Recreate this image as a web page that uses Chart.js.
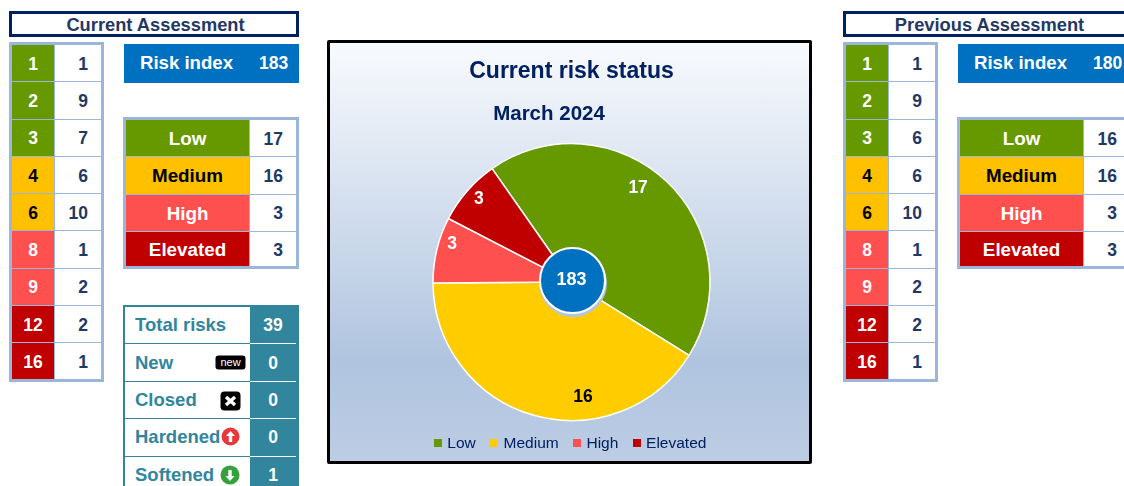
<!DOCTYPE html>
<html>
<head>
<meta charset="utf-8">
<title>Risk status</title>
<script src="https://cdn.jsdelivr.net/npm/chart.js@4"></script>
<style>
    html, body { margin: 0; padding: 0; width: 1124px; height: 486px; overflow: hidden; background: #fff; }
    body { position: relative; font-family: "Liberation Sans", Arial, sans-serif; font-weight: bold; }

    .panel-title {
        position: absolute; top: 11px; width: 290px; height: 26px; box-sizing: border-box; padding-left: 3px;
        border: 3px solid #002060; color: #1f3864; font-size: 18.3px; line-height: 21px; text-align: center;
    }
    .risk-index {
        position: absolute; top: 44px; width: 175px; height: 39px; background: #0070c0; color: #fff;
    }
    .risk-index span { position: absolute; top: 0; line-height: 38px; }

    table { position: absolute; border-collapse: separate; border-spacing: 0; table-layout: fixed; box-sizing: border-box; }
    td { padding: 0; box-sizing: border-box; overflow: hidden; white-space: nowrap; }

    .grid { border: 3px solid #9bb6db; color: #1f3864; }
    .grid td { height: 37.3px; padding-top: 2px; border-bottom: 1px solid #9bb6db; border-left: 1px solid #9bb6db; font-size: 17.5px; }
    .grid td:first-child { border-left: 0; text-align: center; }
    .grid tr:last-child td { height: 35.5px; border-bottom: 0; }
    .grid td.count { text-align: right; padding-right: 13px; }
    .grid.levels tr:last-child td { height: 34.5px; }

    .movement { border: solid #31859c; border-width: 2px 0 0 2px; color: #31859c; font-size: 18.5px; }
    .movement td { height: 37.4px; position: relative; border-bottom: 1px solid #31859c; padding-left: 10px; }
    .movement td.count {
        background: #31859c; color: #fff; text-align: center; padding: 0 3px 0 0; font-size: 17.5px;
        border-bottom: 0;
    }
    .movement td.count::after { content: ""; position: absolute; left: 0; right: 3px; bottom: 0; height: 1px; background: #fff; }
    .movement svg { position: absolute; }

    #status {
        position: absolute; left: 327px; top: 40px; width: 485px; height: 424px; box-sizing: border-box;
        border: 3px solid #000; border-radius: 2px;
        background: linear-gradient(#f8fafd 0%, #b0c4df 76%, #bccde4 100%);
    }
    #status canvas { position: absolute; left: 2px; top: 0; }
</style>
</head>
<body>
<div id="status"><canvas id="statusChart" width="479" height="418"></canvas></div>

<script>
const FONT = '"Liberation Sans", Arial, sans-serif';

const riskScores = [1, 2, 3, 4, 6, 8, 9, 12, 16];
const currentScoreCounts = [1, 9, 7, 6, 10, 1, 2, 2, 1];
const previousScoreCounts = [1, 9, 6, 6, 10, 1, 2, 2, 1];

const levels = ['Low', 'Medium', 'High', 'Elevated'];
const currentLevelCounts = [17, 16, 3, 3];
const previousLevelCounts = [16, 16, 3, 3];

const movementLabels = ['Total risks', 'New', 'Closed', 'Hardened', 'Softened'];
const movementCounts = [39, 0, 0, 0, 1];

const currentIndex = 183;
const previousIndex = 180;

// Tile colours for the tables, the pie uses a slightly brighter medium
const levelColors = ['#669900', '#ffc000', '#ff5050', '#c00000'];
const levelTextColors = ['#fff', '#000', '#fff', '#fff'];
const pieColors = ['#669900', '#ffcc00', '#ff5050', '#c00000'];
const pieLabelColors = ['#fff', '#000', '#fff', '#fff'];

function scoreLevel(score) {
    if (score <= 3) return 0;
    if (score <= 6) return 1;
    if (score <= 9) return 2;
    return 3;
}

function addTable(className, left, top, width, colWidths, rows) {
    const table = document.createElement('table');
    table.className = className;
    table.style.left = left + 'px';
    table.style.top = top + 'px';
    table.style.width = width + 'px';
    const cols = colWidths.map(w => `<col style="width:${w}px">`).join('');
    table.innerHTML = `<colgroup>${cols}</colgroup>` + rows.map(r => `<tr>${r}</tr>`).join('');
    document.body.appendChild(table);
}

function levelCell(level, text, size) {
    return `<td style="background:${levelColors[level]};color:${levelTextColors[level]};font-size:${size}px">${text}</td>`;
}

function buildPanel(left, title, riskIndex, scoreCounts, levelCounts) {
    const heading = document.createElement('div');
    heading.className = 'panel-title';
    heading.style.left = left + 'px';
    heading.textContent = title;
    document.body.appendChild(heading);

    const badge = document.createElement('div');
    badge.className = 'risk-index';
    badge.style.left = (left + 115) + 'px';
    badge.innerHTML = `<span style="left:16px;font-size:18.6px">Risk index</span>` +
        `<span style="left:135px;font-size:17.5px">${riskIndex}</span>`;
    document.body.appendChild(badge);

    addTable('grid', left, 42, 95, [42, 47],
        riskScores.map((s, i) => levelCell(scoreLevel(s), s, 17.5) + `<td class="count">${scoreCounts[i]}</td>`));

    addTable('grid levels', left + 114, 117, 176, [123, 47],
        levels.map((name, i) => levelCell(i, name, 18.8) + `<td class="count">${levelCounts[i]}</td>`));
}

buildPanel(9, 'Current Assessment', currentIndex, currentScoreCounts, currentLevelCounts);
buildPanel(843, 'Previous Assessment', previousIndex, previousScoreCounts, previousLevelCounts);

// Small markers beside the movement labels
const movementIcons = [
    '',
    '<svg style="left:89.5px;top:11px" width="31" height="15"><rect width="30" height="14" y="0.5" x="0.5" rx="3" fill="#000"/><text x="15.5" y="11" text-anchor="middle" font-size="11" font-weight="normal" fill="#fff" font-family="Liberation Sans">new</text></svg>',
    '<svg style="left:95px;top:9px" width="21" height="20"><rect width="20" height="19" x="0.5" y="0.5" rx="4" fill="#000"/><path d="M6 6L15 14M15 6L6 14" stroke="#fff" stroke-width="3.4"/></svg>',
    '<svg style="left:96px;top:8px" width="19" height="19"><circle cx="9.5" cy="9.5" r="9" fill="#e8383b"/><path d="M9.5 4L14 9H11.2V15H7.8V9H5Z" fill="#fff"/></svg>',
    '<svg style="left:95px;top:8px" width="20" height="20"><circle cx="10" cy="10" r="9.5" fill="#36a03c"/><path d="M10 16L5.5 11H8.3V5H11.7V11H14.5Z" fill="#fff"/></svg>'
];

addTable('movement', 123, 305, 176, [125, 49],
    movementLabels.map((name, i) =>
        `<td>${name}${movementIcons[i]}</td><td class="count">${movementCounts[i]}</td>`));

// Square legend marker, drawn as a little canvas so it can sit close to its text
function legendSwatch(color) {
    const c = document.createElement('canvas');
    c.width = 8;
    c.height = 8;
    const g = c.getContext('2d');
    g.fillStyle = color;
    g.fillRect(0, 0, 8, 8);
    return c;
}

// Where each value sits on its slice: degrees clockwise from the top, px from the centre
const pieLabelSpots = [[35.4, 115], [174.3, 116], [287.4, 125], [311.7, 124]];

const pieExtras = {
    id: 'pieExtras',
    afterDatasetsDraw(chart) {
        const ctx = chart.ctx;
        const arcs = chart.getDatasetMeta(0).data;
        const cx = arcs[0].x;
        const cy = arcs[0].y;

        ctx.save();
        ctx.textAlign = 'center';
        ctx.textBaseline = 'middle';

        ctx.font = `bold 17.5px ${FONT}`;
        chart.data.datasets[0].data.forEach((v, i) => {
            const rad = pieLabelSpots[i][0] * Math.PI / 180;
            ctx.fillStyle = pieLabelColors[i];
            ctx.fillText(v, cx + Math.sin(rad) * pieLabelSpots[i][1], cy - Math.cos(rad) * pieLabelSpots[i][1]);
        });

        // Centre disc with the risk index
        ctx.beginPath();
        ctx.arc(cx + 1.5, cy + 1, 34, 0, Math.PI * 2);
        ctx.fillStyle = '#b4c6df';
        ctx.fill();
        ctx.beginPath();
        ctx.arc(cx + 1, cy - 1.5, 32.5, 0, Math.PI * 2);
        ctx.fillStyle = '#0070c0';
        ctx.fill();
        ctx.lineWidth = 2;
        ctx.strokeStyle = '#fff';
        ctx.stroke();

        ctx.fillStyle = '#fff';
        ctx.font = `bold 18px ${FONT}`;
        ctx.fillText(currentIndex, cx, cy - 2.5);

        // Month line sits left of the chart's centre, the title plugin can't place it there
        ctx.fillStyle = '#002060';
        ctx.font = `bold 20.5px ${FONT}`;
        ctx.fillText('March 2024', 217, 71);
        ctx.restore();
    }
};

new Chart(document.getElementById('statusChart'), {
    type: 'pie',
    data: {
        labels: levels,
        datasets: [{
            data: currentLevelCounts,
            backgroundColor: pieColors,
            borderColor: '#fff',
            borderWidth: 1.5,
            radius: 138.5,
            rotation: -35
        }]
    },
    options: {
        responsive: false,
        animation: false,
        plugins: {
            title: {
                display: true,
                text: 'Current risk status',
                color: '#002060',
                font: { family: FONT, size: 23, weight: 'bold' },
                padding: { top: 15, bottom: 60 }
            },
            legend: {
                position: 'bottom',
                labels: {
                    usePointStyle: true,
                    pointStyleWidth: 3,
                    padding: 17,
                    color: '#002060',
                    font: { family: FONT, size: 15.5 },
                    generateLabels: () => levels.map((text, i) => ({
                        text,
                        index: i,
                        fontColor: '#002060',
                        pointStyle: legendSwatch(pieColors[i]),
                        hidden: false,
                        lineWidth: 0
                    }))
                }
            },
            tooltip: { enabled: false }
        }
    },
    plugins: [pieExtras]
});
</script>
</body>
</html>
